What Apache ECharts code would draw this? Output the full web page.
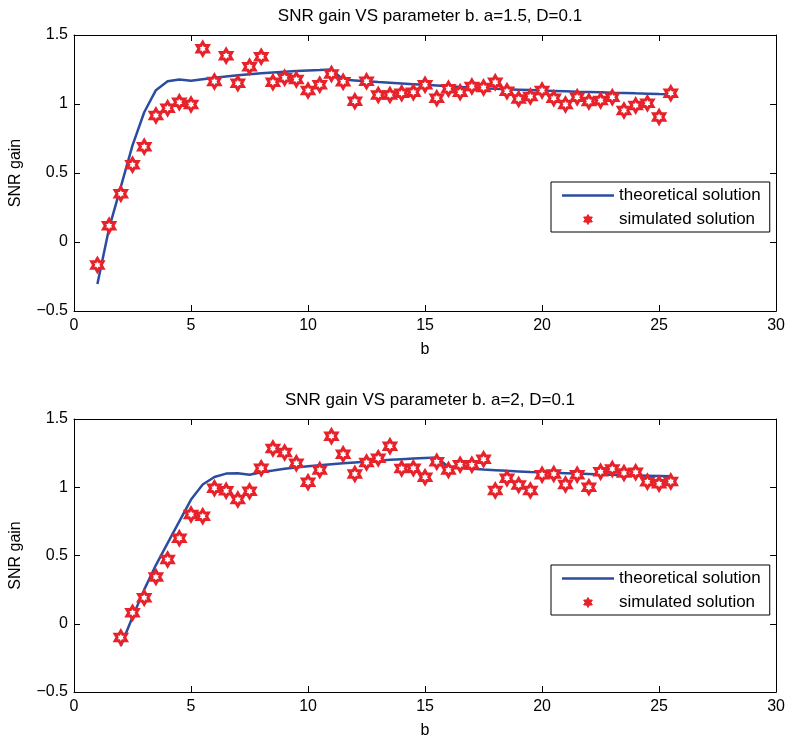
<!DOCTYPE html>
<html>
<head>
<meta charset="utf-8">
<script src="https://cdn.jsdelivr.net/npm/echarts@6/dist/echarts.min.js"></script>
<style>html,body{margin:0;padding:0;background:#fff}#c{width:788px;height:740px}</style>
</head>
<body>
<div id="c"></div>
<script>
// ---- data ----
const titleTop = 'SNR gain VS parameter b. a=1.5, D=0.1';
const titleBottom = 'SNR gain VS parameter b. a=2, D=0.1';
const xTicks = [0, 5, 10, 15, 20, 25, 30];
const yTicks = [-0.5, 0, 0.5, 1, 1.5];

const bTop = [1,1.5,2,2.5,3,3.5,4,4.5,5,5.5,6,6.5,7,7.5,8,8.5,9,9.5,10,10.5,11,11.5,12,12.5,13,13.5,14,14.5,15,15.5,16,16.5,17,17.5,18,18.5,19,19.5,20,20.5,21,21.5,22,22.5,23,23.5,24,24.5,25,25.5];
const theoryTop = [-0.305,0.10,0.40,0.70,0.94,1.10,1.165,1.178,1.168,1.18,1.19,1.20,1.208,1.215,1.222,1.228,1.234,1.239,1.243,1.246,1.25,1.177,1.171,1.165,1.159,1.154,1.149,1.144,1.139,1.134,1.129,1.124,1.119,1.114,1.11,1.107,1.104,1.101,1.098,1.095,1.092,1.089,1.087,1.085,1.082,1.08,1.077,1.075,1.072,1.07];
const simTop = [-0.166,0.118,0.35,0.56,0.69,0.917,0.97,1.013,0.996,1.40,1.163,1.35,1.15,1.27,1.343,1.157,1.19,1.177,1.097,1.139,1.218,1.162,1.02,1.165,1.066,1.066,1.078,1.085,1.139,1.042,1.11,1.085,1.126,1.12,1.157,1.092,1.037,1.054,1.097,1.042,0.996,1.049,1.018,1.025,1.049,0.953,0.989,1.006,0.905,1.078];

const bBottom = [2,2.5,3,3.5,4,4.5,5,5.5,6,6.5,7,7.5,8,8.5,9,9.5,10,10.5,11,11.5,12,12.5,13,13.5,14,14.5,15,15.5,16,16.5,17,17.5,18,18.5,19,19.5,20,20.5,21,21.5,22,22.5,23,23.5,24,24.5,25,25.5];
const theoryBottom = [-0.163,0.05,0.25,0.43,0.59,0.75,0.91,1.02,1.075,1.10,1.102,1.092,1.11,1.122,1.135,1.145,1.153,1.161,1.168,1.175,1.182,1.189,1.195,1.201,1.206,1.21,1.214,1.218,1.148,1.142,1.136,1.13,1.125,1.12,1.116,1.112,1.109,1.106,1.103,1.1,1.097,1.094,1.091,1.088,1.086,1.084,1.082,1.08];
const simBottom = [-0.10,0.08,0.19,0.343,0.47,0.627,0.80,0.788,0.993,0.974,0.911,0.97,1.14,1.283,1.254,1.176,1.037,1.126,1.374,1.241,1.097,1.181,1.213,1.301,1.138,1.14,1.073,1.186,1.126,1.164,1.164,1.205,0.976,1.066,1.017,0.976,1.092,1.097,1.02,1.092,1.0,1.114,1.133,1.104,1.109,1.041,1.025,1.043];

const nameTheory = 'theoretical solution';
const nameSim = 'simulated solution';
// ---- end data ----

const FONT = "'Liberation Sans', Arial, Helvetica, sans-serif";
const LINE_COLOR = '#2B4DA0';
const RED = '#E8222B';
const HEX = 'path://M10 0 L12.887 5 L18.66 5 L15.774 10 L18.66 15 L12.887 15 L10 20 L7.113 15 L1.34 15 L4.226 10 L1.34 5 L7.113 5 Z';
const LINE_ICON = 'path://M0 0 L52 0 L52 2.5 L0 2.5 Z';

const pairs = (xs, ys) => xs.map((x, i) => [x, ys[i]]);
const xMin = xTicks[0], xMax = xTicks[xTicks.length - 1], xInt = xTicks[1] - xTicks[0];
const yMin = yTicks[0], yMax = yTicks[yTicks.length - 1], yInt = yTicks[1] - yTicks[0];

const grids = [
  {left: 73, width: 705, top: 35, height: 276},
  {left: 73, width: 705, top: 419, height: 277}
];

function xAxisPair(gi) {
  const base = {
    gridIndex: gi, type: 'value', min: xMin, max: xMax, interval: xInt,
    axisLine: {show: true, onZero: false, lineStyle: {color: '#000', width: 1}},
    axisTick: {show: true, inside: true, length: 6, lineStyle: {color: '#000'}},
    splitLine: {show: false}
  };
  return [
    Object.assign({}, base, {
      position: 'bottom', name: 'b', nameLocation: 'middle', nameGap: 31,
      nameTextStyle: {fontSize: 16, color: '#000', fontFamily: FONT},
      axisLabel: {show: true, margin: 7, fontSize: 16, color: '#000', fontFamily: FONT}
    }),
    Object.assign({}, base, {position: 'top', axisLabel: {show: false}})
  ];
}
function yAxisPair(gi) {
  const base = {
    gridIndex: gi, type: 'value', min: yMin, max: yMax, interval: yInt,
    axisLine: {show: true, onZero: false, lineStyle: {color: '#000', width: 1}},
    axisTick: {show: true, inside: true, length: 6, lineStyle: {color: '#000'}},
    splitLine: {show: false}
  };
  return [
    Object.assign({}, base, {
      position: 'left', name: 'SNR gain', nameLocation: 'middle', nameGap: 50,
      nameTextStyle: {fontSize: 16, color: '#000', fontFamily: FONT},
      axisLabel: {show: true, margin: 6, fontSize: 16, color: '#000', fontFamily: FONT,
        formatter: v => String(v).replace('-', '\u2212')}
    }),
    Object.assign({}, base, {position: 'right', axisLabel: {show: false}})
  ];
}

function lineSeries(xi, yi, xs, ys) {
  return {
    name: nameTheory, type: 'line', xAxisIndex: xi, yAxisIndex: yi,
    data: pairs(xs, ys), symbol: 'none', showSymbol: false,
    lineStyle: {color: LINE_COLOR, width: 2.5}, itemStyle: {color: LINE_COLOR},
    animation: false, z: 2
  };
}
function simSeries(xi, yi, xs, ys) {
  return {
    name: nameSim, type: 'scatter', xAxisIndex: xi, yAxisIndex: yi,
    data: pairs(xs, ys), symbol: HEX, symbolSize: 13, symbolKeepAspect: true,
    itemStyle: {color: '#fff', borderColor: RED, borderWidth: 3, opacity: 1},
    animation: false, z: 3
  };
}

function legendAt(top) {
  return {
    left: 551, top: top, orient: 'vertical', symbolKeepAspect: true,
    backgroundColor: '#fff', borderColor: '#000', borderWidth: 1, borderRadius: 0,
    padding: [4, 9, 3, 11], itemGap: 5, itemWidth: 52, itemHeight: 10,
    textStyle: {fontSize: 17, color: '#000', fontFamily: FONT, lineHeight: 19},
    selectedMode: false,
    data: [
      {name: nameTheory, icon: LINE_ICON, itemStyle: {color: LINE_COLOR, borderWidth: 0}},
      {name: nameSim, icon: HEX, itemStyle: {color: RED, borderColor: RED, borderWidth: 1}}
    ]
  };
}

const chart = echarts.init(document.getElementById('c'), null, {renderer: 'canvas'});
chart.setOption({
  animation: false,
  backgroundColor: '#fff',
  title: [
    {text: titleTop, left: 425, textAlign: 'center', top: 3,
      textStyle: {fontSize: 17, fontWeight: 'normal', color: '#000', fontFamily: FONT}},
    {text: titleBottom, left: 425, textAlign: 'center', top: 387,
      textStyle: {fontSize: 17, fontWeight: 'normal', color: '#000', fontFamily: FONT}}
  ],
  grid: grids,
  xAxis: [...xAxisPair(0), ...xAxisPair(1)],
  yAxis: [...yAxisPair(0), ...yAxisPair(1)],
  legend: [legendAt(182), legendAt(565)],
  series: [
    lineSeries(0, 0, bTop, theoryTop),
    simSeries(0, 0, bTop, simTop),
    lineSeries(2, 2, bBottom, theoryBottom),
    simSeries(2, 2, bBottom, simBottom)
  ]
});
</script>
</body>
</html>
